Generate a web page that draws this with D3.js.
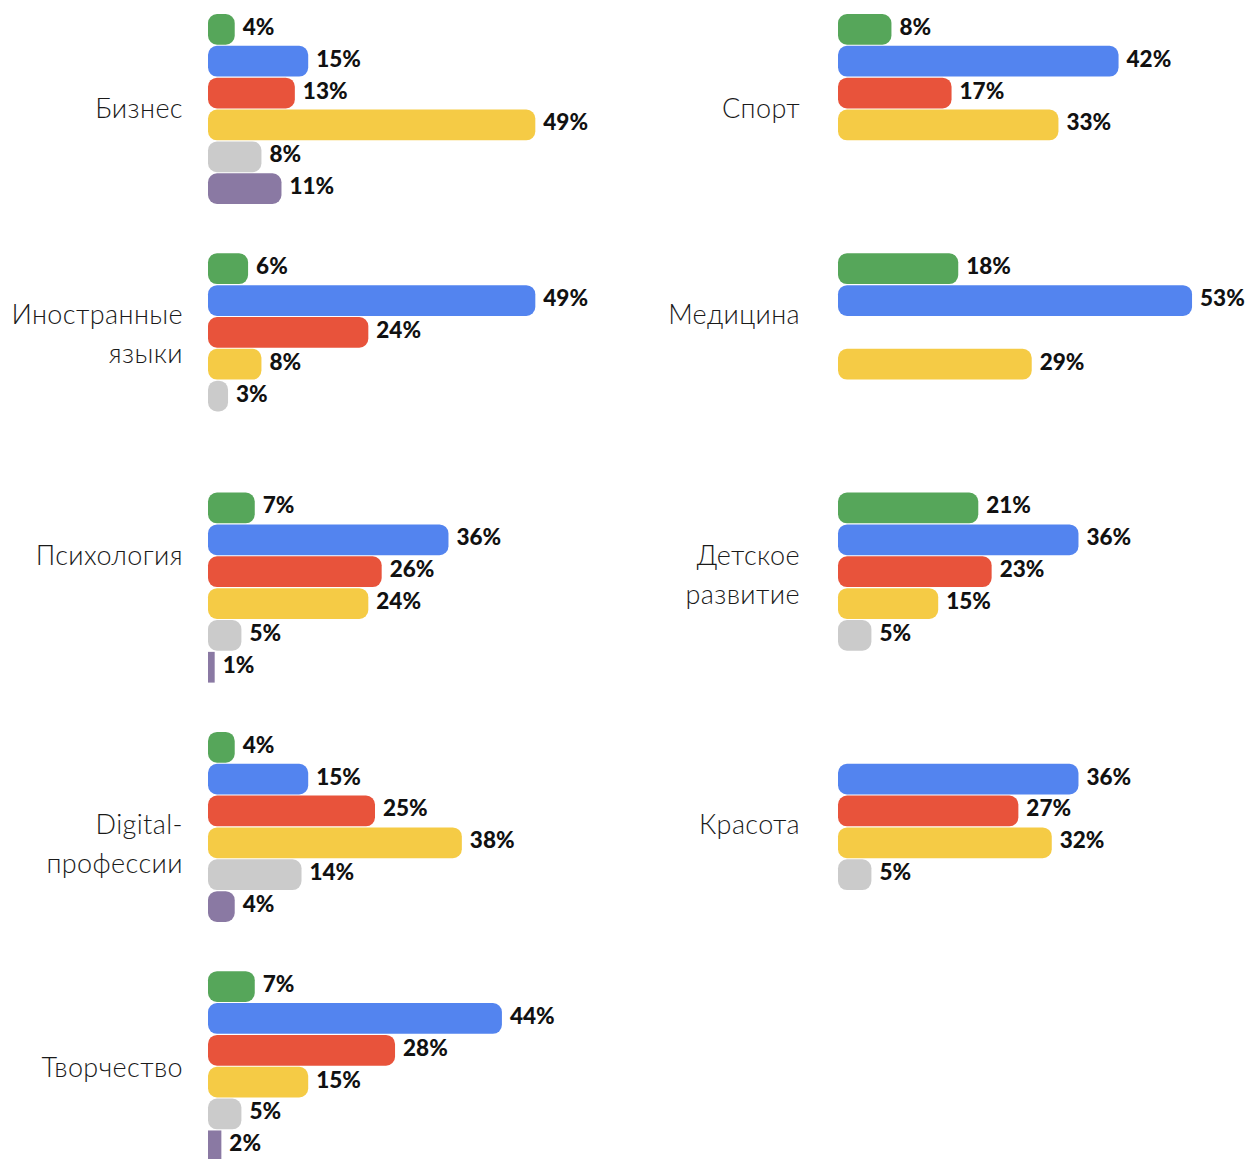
<!DOCTYPE html>
<html>
<head>
<meta charset="utf-8">
<script src="https://cdn.jsdelivr.net/npm/d3@7"></script>
<style>
  html, body { margin: 0; padding: 0; background: #fff; }
  svg { display: block; }
  .cat { font-family: "Lato", "Noto Sans", sans-serif; font-weight: 300; font-size: 27px; letter-spacing: 0.4px; fill: #1a1a1a; }
  .val { font-family: "Lato", "Noto Sans", sans-serif; font-weight: 900; font-size: 22.5px; fill: #111; }
</style>
</head>
<body>
<script>
// Interest areas, two per row, read left to right
const categories = [
  "Бизнес", "Спорт",
  "Иностранные\nязыки", "Медицина",
  "Психология", "Детское\nразвитие",
  "Digital-\nпрофессии", "Красота",
  "Творчество"
];

// Share of answers (%) for each of the six answer groups; null = no bar
const greenValues  = [4, 8, 6, 18, 7, 21, 4, null, 7];
const blueValues   = [15, 42, 49, 53, 36, 36, 15, 36, 44];
const redValues    = [13, 17, 24, null, 26, 23, 25, 27, 28];
const yellowValues = [49, 33, 8, 29, 24, 15, 38, 32, 15];
const grayValues   = [8, null, 3, null, 5, 5, 14, 5, 5];
const purpleValues = [11, null, null, null, 1, null, 4, null, 2];

const seriesValues = [greenValues, blueValues, redValues, yellowValues, grayValues, purpleValues];
const seriesColors = ["#56a65a", "#5384ef", "#e8533b", "#f5cb45", "#cbcbcb", "#8a79a3"];

// ---- layout ----
const W = 1248, H = 1159;
const nRows = Math.ceil(categories.length / 2);
const colBarX = [208, 838];      // where bars start in each column
const colLabelX = [183, 800];    // right edge of category names
const rowLabelOffset = [94, 61, 63, 93, 96]; // first line of the name, below the group top
const lineGap = 39;

const svg = d3.select("body").append("svg")
  .attr("width", W).attr("height", H);

const rowScale = d3.scaleBand()
  .domain(d3.range(nRows))
  .range([14, 14 + nRows * 239.3])
  .paddingInner(0).paddingOuter(0);

const slotScale = d3.scaleBand()
  .domain(d3.range(seriesValues.length))
  .range([0, 190])
  .paddingInner(0.035).paddingOuter(0);

const x = d3.scaleLinear().domain([0, 100]).range([0, 668]);

const groups = svg.selectAll("g.group")
  .data(categories.map((name, i) => ({
    name, i,
    col: i % 2,
    row: Math.floor(i / 2),
    bars: seriesValues.map((vals, s) => ({ s, v: vals[i] })).filter(d => d.v != null)
  })))
  .join("g")
  .attr("class", "group")
  .attr("transform", d => `translate(0,${rowScale(d.row)})`);

// category names, right aligned
groups.append("text")
  .attr("class", "cat")
  .attr("text-anchor", "end")
  .attr("x", d => colLabelX[d.col])
  .attr("y", d => rowLabelOffset[d.row])
  .each(function(d) {
    const t = d3.select(this);
    d.name.split("\n").forEach((line, k) => {
      t.append("tspan")
        .attr("x", colLabelX[d.col])
        .attr("y", rowLabelOffset[d.row] - 1 + k * lineGap)
        .attr("dominant-baseline", "central")
        .text(line);
    });
  });

// bars
groups.selectAll("rect.bar")
  .data(d => d.bars.map(b => ({ ...b, col: d.col })))
  .join("rect")
  .attr("class", "bar")
  .attr("x", d => colBarX[d.col])
  .attr("y", d => slotScale(d.s))
  .attr("width", d => x(d.v))
  .attr("height", slotScale.bandwidth())
  .attr("rx", d => x(d.v) < 14 ? 0 : 9)
  .attr("fill", d => seriesColors[d.s]);

// value labels
groups.selectAll("text.val")
  .data(d => d.bars.map(b => ({ ...b, col: d.col })))
  .join("text")
  .attr("class", "val")
  .attr("x", d => colBarX[d.col] + x(d.v) + 8)
  .attr("y", d => slotScale(d.s) + slotScale.bandwidth() / 2 - 3)
  .attr("dominant-baseline", "central")
  .text(d => d.v + "%");
</script>
</body>
</html>
